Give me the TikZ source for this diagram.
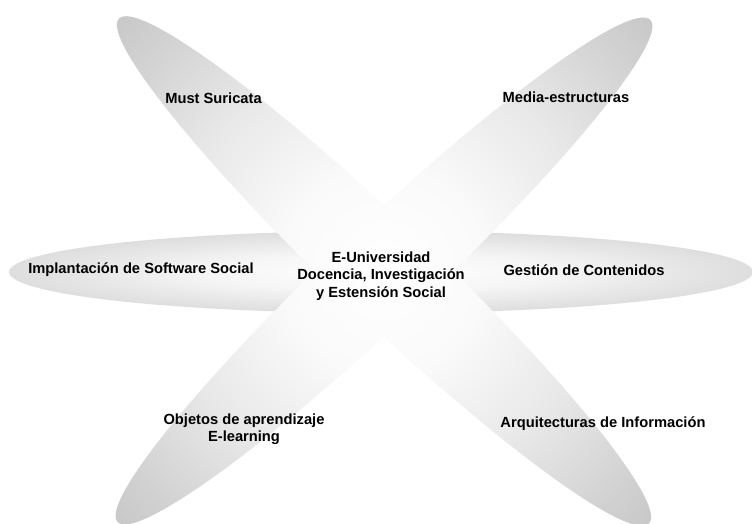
\documentclass[tikz,border=0pt]{standalone}
\usepackage{fontspec}
\setmainfont{Liberation Sans}
\pgfdeclareradialshading{diagshade}{\pgfpoint{0bp}{0bp}}{%
  color(0bp)=(white); color(7bp)=(black!2); color(14.6bp)=(black!9);
  color(21.9bp)=(black!18); color(29.2bp)=(black!26); color(36.5bp)=(black!32);
  color(42.3bp)=(black!34); color(50bp)=(black!27)}
\pgfdeclareradialshading{horshade}{\pgfpoint{0bp}{0bp}}{%
  color(0bp)=(white); color(12bp)=(black!4); color(25bp)=(black!13);
  color(35bp)=(black!20); color(44bp)=(black!29); color(50bp)=(black!38)}
\tikzset{
  lbl/.style={font=\fontsize{14.7}{17.5}\selectfont\bfseries, align=center,
    inner sep=0pt, text=black}
}
\begin{document}
\begin{tikzpicture}[x=1pt,y=1pt]
\useasboundingbox (0,0) rectangle (752,524);
\clip (0,0) rectangle (752,524);
\fill[white] (0,0) rectangle (752,524);
% horizontal petal
\shade[shading=horshade] (381,252) ellipse [x radius=372, y radius=41];
% diagonal petal, top-left to bottom-right
\begin{scope}
  \clip[rotate around={136.4:(384,253)}] (384,253) ellipse [x radius=366, y radius=48];
  \shade[shading=diagshade] (384,253) circle [radius=366];
\end{scope}
% diagonal petal, top-right to bottom-left
\begin{scope}
  \clip[rotate around={43.3:(384,253)}] (384,253) ellipse [x radius=366, y radius=48];
  \shade[shading=diagshade] (384,253) circle [radius=366];
\end{scope}
% labels
\node[lbl] (must) at (213.5,426) {Must Suricata};
\node[lbl] (media) at (566,427) {Media-estructuras};
\node[lbl] (impl) at (141,254) {Implantación de Software Social};
\node[lbl] (gestion) at (584,254) {Gestión de Contenidos};
\node[lbl] (center) at (381,248) {E-Universidad\\Docencia, Investigación\\y Estensión Social};
\node[lbl] (objetos) at (244,95) {Objetos de aprendizaje\\E-learning};
\node[lbl] (arq) at (603,100) {Arquitecturas de Información};
\end{tikzpicture}
\end{document}
